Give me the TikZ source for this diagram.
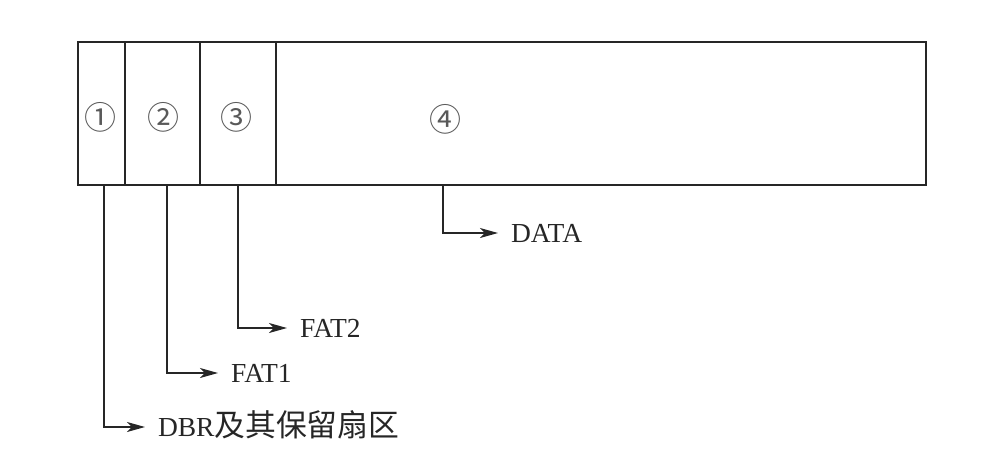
\documentclass[tikz,border=0pt]{standalone}
\usepackage{fontspec}
\setmainfont{Liberation Serif}
\newfontfamily\cjk[Scale=1.12]{Noto Sans CJK SC}
\newfontfamily\circfont{Noto Sans CJK SC}
\usetikzlibrary{arrows.meta}
\begin{document}
\begin{tikzpicture}[x=1pt,y=-1pt,
  cell/.style={draw=black!85,line width=1.8pt,anchor=north west,minimum height=143pt,inner sep=0pt,outer sep=0pt},
  num/.style={font=\circfont\fontsize{32}{32}\selectfont,text=black!65,inner sep=0pt},
  lab/.style={anchor=west,font=\fontsize{27.5}{27.5}\selectfont,text=black!85,text height=18pt,text depth=0pt,inner sep=0pt,outer sep=13pt},
  lead/.style={draw=black!85,line width=1.6pt,-{Stealth[length=18pt,width=10pt,inset=5pt]}}]
\useasboundingbox (0,0) rectangle (990,472);
\node[cell,minimum width=47pt] (c1) at (78,42) {};
\node[cell,minimum width=75pt] (c2) at (125,42) {};
\node[cell,minimum width=76pt] (c3) at (200,42) {};
\node[cell,minimum width=650pt] (c4) at (276,42) {};
\node[num] (n1) at (100,117) {①};
\node[num] (n2) at (163,117) {②};
\node[num] (n3) at (236,117) {③};
\node[num] (n4) at (445,119) {④};
\node[lab] (l1) at (145,427) {DBR{\cjk 及其保留扇区}};
\node[lab] (l2) at (218,373) {FAT1};
\node[lab] (l3) at (287,328) {FAT2};
\node[lab] (l4) at (498,233) {DATA};
\coordinate (p1) at (104,185);
\coordinate (p2) at (167,185);
\coordinate (p3) at (238,185);
\coordinate (p4) at (443,185);
\draw[lead] (p1) |- (l1.west);
\draw[lead] (p2) |- (l2.west);
\draw[lead] (p3) |- (l3.west);
\draw[lead] (p4) |- (l4.west);
\end{tikzpicture}
\end{document}
